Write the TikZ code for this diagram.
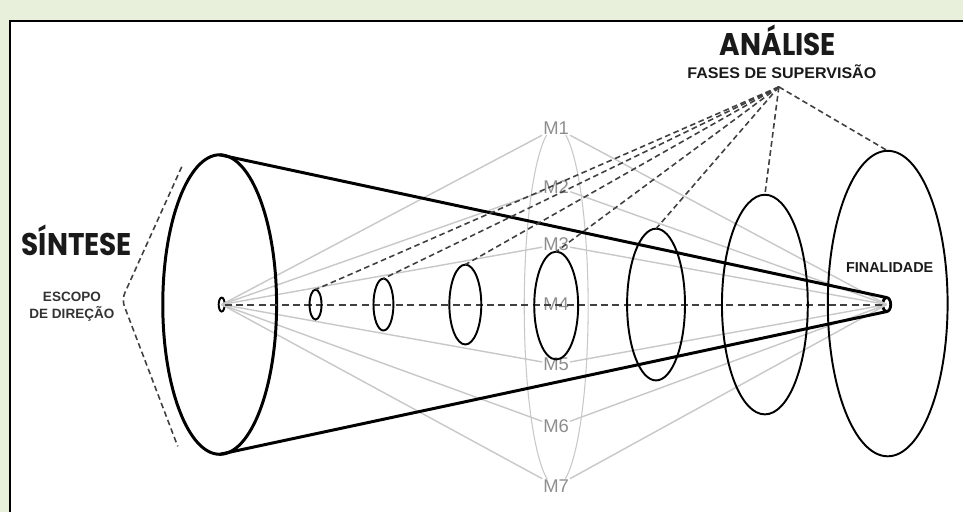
\documentclass[tikz,border=0pt]{standalone}
\usepackage{fontspec}
\setmainfont{Liberation Sans}
\newfontfamily\gothic{Poppins}
\usetikzlibrary{shapes.geometric}
\definecolor{bggreen}{HTML}{E8F0DC}
\definecolor{mgrey}{HTML}{8E8E8E}
\definecolor{lgrey}{HTML}{C8C8C8}
\definecolor{dgrey}{HTML}{404040}
\definecolor{txt}{HTML}{1A1A1A}
\newcommand{\narrowbig}[1]{\scalebox{0.91}[1.02]{#1}}
\begin{document}
\begin{tikzpicture}[x=0.02cm,y=-0.02cm,
  ring/.style={ellipse, draw=black, line width=1.1pt, inner sep=0pt, outer sep=0pt},
  bigring/.style={ring, line width=1.7pt},
  mlabel/.style={text=mgrey, fill=white, font=\fontsize{10.5}{11}\selectfont, inner sep=0.5pt},
  greyline/.style={draw=lgrey, line width=0.8pt},
  supdash/.style={draw=dgrey, line width=0.9pt, dash pattern=on 3.2pt off 2pt},
  conelin/.style={draw=black, line width=1.7pt},
  bigtitle/.style={text=txt, font=\gothic\bfseries\fontsize{17.5}{18}\selectfont, inner sep=0pt},
  smalltitle/.style={text=txt, font=\bfseries\fontsize{8.2}{9.6}\selectfont, inner sep=0pt, align=center}
]
% background and panel
\fill[bggreen] (0,0) rectangle (964,513);
\fill[white] (10,21) rectangle (964,513);
\draw[line width=1.6pt] (10,513) -- (10,21) -- (964,21);

% grey lens with M labels
\node[ellipse, draw=lgrey, line width=0.6pt, minimum width=1.28cm, minimum height=7.2cm, inner sep=0pt] (lens) at (557,307) {};

% apexes (placed early so grey lines can use them)
\node[ring, minimum width=0.12cm, minimum height=0.28cm] (LA) at (222,305) {};
\node[ring, line width=1.6pt, minimum width=0.16cm, minimum height=0.28cm] (R) at (888,305) {};

\node[mlabel] (M1) at (557,128) {M1};
\node[mlabel] (M2) at (557,187) {M2};
\node[mlabel] (M3) at (557,245) {M3};
\node[mlabel] (M4) at (557,305) {M4};
\node[mlabel] (M5) at (557,365) {M5};
\node[mlabel] (M6) at (557,427) {M6};
\node[mlabel] (M7) at (557,487) {M7};

\foreach \m in {M1,M2,M3,M5,M6,M7}{
  \draw[greyline] (LA.center) -- (\m);
  \draw[greyline] (\m) -- (R.center);
}

% big left ellipse and cone
\node[bigring, minimum width=2.28cm, minimum height=6cm] (L) at (220,305) {};
\draw[conelin] (L.north) -- (R.north);
\draw[conelin] (L.south) -- (R.south);

% axis
\draw[supdash, line width=1.1pt, dash pattern=on 4pt off 2.5pt] (LA.east) -- (R.west);

% phase ellipses
\node[ring, minimum width=0.24cm, minimum height=0.6cm]  (e1) at (316,305) {};
\node[ring, minimum width=0.4cm,  minimum height=1.04cm] (e2) at (384,305) {};
\node[ring, minimum width=0.64cm, minimum height=1.6cm]  (e3) at (466,305) {};
\node[ring, minimum width=0.88cm, minimum height=2.16cm] (e4) at (557,306) {};
\node[ring, minimum width=1.16cm, minimum height=3.04cm] (e5) at (657,305) {};
\node[ring, minimum width=1.72cm, minimum height=4.4cm]  (e6) at (766,305) {};
\node[ring, minimum width=2.4cm,  minimum height=6.12cm] (e7) at (889,304) {};

% supervision phases
\coordinate (F) at (780,87);
\foreach \e in {e1,e2,e3,e4,e5,e6,e7}{
  \draw[supdash] (F) -- (\e.north);
}

% scope bracket
\coordinate (B1) at (182,167);
\coordinate (B2) at (122,300);
\coordinate (B3) at (178,447);
\draw[supdash, rounded corners=4pt] (B1) -- (B2) -- (B3);

% texts
\node[bigtitle] (ana) at (779,40) {\narrowbig{ANÁLISE}};
\node[smalltitle, font=\bfseries\fontsize{8.8}{9.6}\selectfont] (fases) at (783,72) {\scalebox{1.04}[1]{FASES DE SUPERVISÃO}};
\node[bigtitle] (sint) at (77,241) {\narrowbig{SÍNTESE}};
\node[smalltitle, font=\bfseries\fontsize{7.7}{9.8}\selectfont, text=black!80] (esc) at (72,307) {ESCOPO\\DE DIREÇÃO};
\node[smalltitle] (fin) at (891,268) {FINALIDADE};
\end{tikzpicture}
\end{document}
